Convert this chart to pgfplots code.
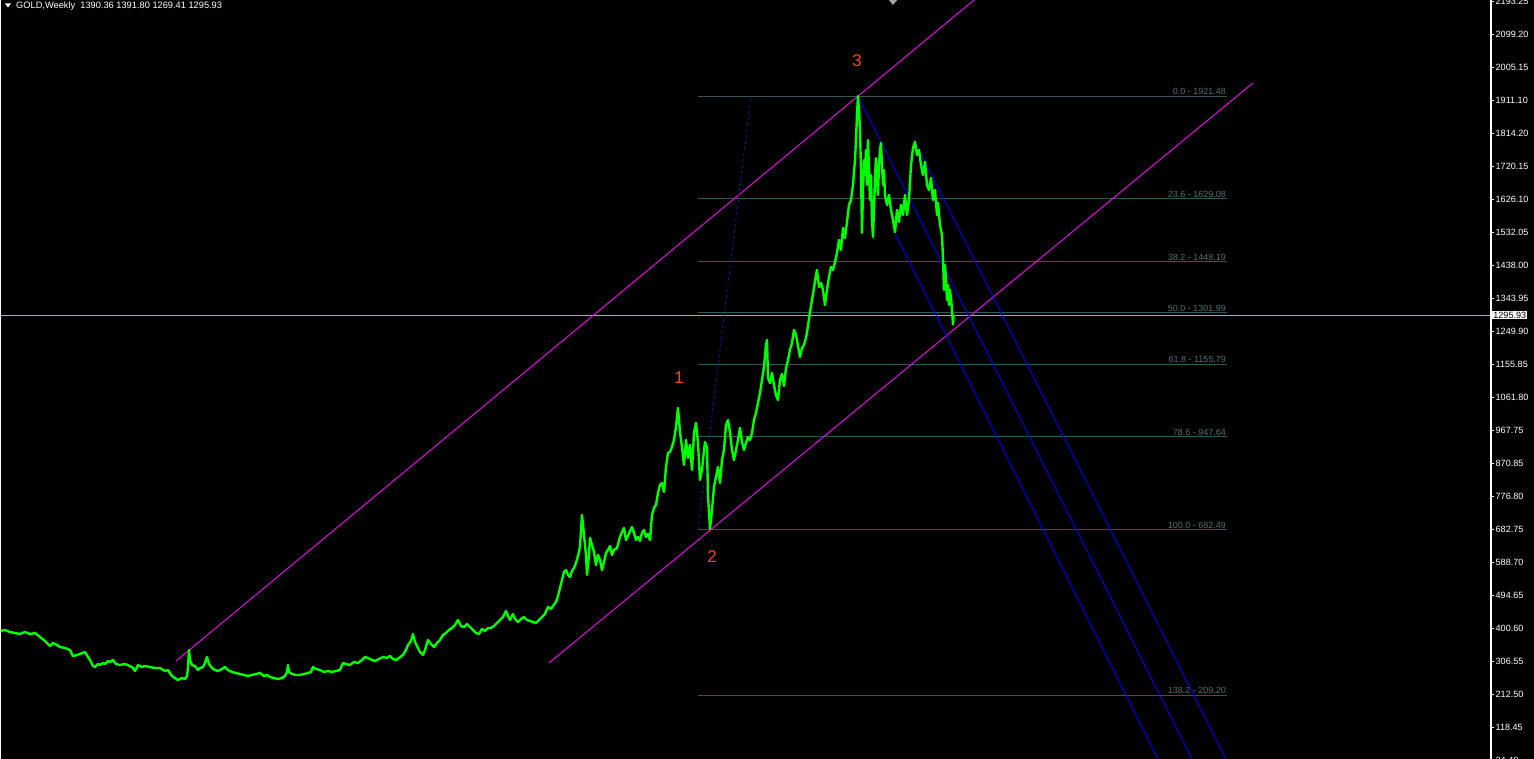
\documentclass[border=0pt]{standalone}
\usepackage{pgfplots}
\pgfplotsset{compat=1.18}
\usepackage{fontspec}
\setmainfont{Liberation Sans}
\definecolor{gld}{RGB}{0,255,0}
\definecolor{mag}{RGB}{255,0,255}
\definecolor{fibc}{RGB}{55,85,85}
\definecolor{fibt}{RGB}{80,110,110}
\definecolor{wave}{RGB}{255,69,0}
\definecolor{navyd}{RGB}{20,20,150}
\definecolor{cpl}{RGB}{160,168,190}
\definecolor{bluel}{RGB}{0,0,255}
\begin{document}
\begin{tikzpicture}
\clip (0,0) rectangle (1534bp,759bp);
\fill[black] (0,0) rectangle (1534bp,759bp);
\begin{axis}[
  at={(0,-1bp)}, anchor=south west, scale only axis,
  width=1490bp, height=760bp,
  xmin=0, xmax=1490, ymin=23.8, ymax=2196.4,
  axis line style={draw=none},
  xtick=\empty,
  ytick={2193.54,2099.21,2004.87,1910.54,1816.20,1721.87,1627.54,1533.20,1438.87,1344.53,1250.20,1155.87,1061.53,967.20,872.86,778.53,684.20,589.86,495.53,401.19,306.86,212.53,118.19,23.86},
  yticklabels={2193.25,2099.20,2005.15,1911.10,1814.20,1720.15,1626.10,1532.05,1438.00,1343.95,1249.90,1155.85,1061.80,967.75,870.85,776.80,682.75,588.70,494.65,400.60,306.55,212.50,118.45,24.40},
  ytick pos=right, tick align=outside,
  major tick length=4bp,
  y tick style={white, line width=0.8bp},
  yticklabel style={white, font=\fontsize{9.1}{10}\selectfont, inner sep=1.5bp},
  clip=true,
]
% fibonacci levels
\addplot[fibc, line width=0.8bp] coordinates {(698,1921.48) (1227,1921.48)};
\addplot[fibc, line width=0.8bp] coordinates {(698,1629.08) (1227,1629.08)};
\addplot[fibc, line width=0.8bp] coordinates {(698,1448.19) (1227,1448.19)};
\addplot[fibc, line width=0.8bp] coordinates {(698,1301.99) (1227,1301.99)};
\addplot[fibc, line width=0.8bp] coordinates {(698,1155.79) (1227,1155.79)};
\addplot[fibc, line width=0.8bp] coordinates {(698,947.64) (1227,947.64)};
\addplot[fibc, line width=0.8bp] coordinates {(698,682.49) (1227,682.49)};
\addplot[fibc, line width=0.8bp] coordinates {(698,209.20) (1227,209.20)};
\begin{scope}[every node/.style={fibt, anchor=south east, inner sep=1bp, font=\fontsize{9}{10}\selectfont}]
\node at (axis cs:1227,1921.48) {0.0 - 1921.48};
\node at (axis cs:1227,1629.08) {23.6 - 1629.08};
\node at (axis cs:1227,1448.19) {38.2 - 1448.19};
\node at (axis cs:1227,1301.99) {50.0 - 1301.99};
\node at (axis cs:1227,1155.79) {61.8 - 1155.79};
\node at (axis cs:1227,947.64) {78.6 - 947.64};
\node at (axis cs:1227,682.49) {100.0 - 682.49};
\node at (axis cs:1227,209.20) {138.2 - 209.20};
\end{scope}
% current price line
\addplot[cpl, line width=0.8bp] coordinates {(0,1295.93) (1490,1295.93)};
% channel lines
\addplot[mag, line width=0.9bp] coordinates {(176,306.9) (990,2234.0)};
\addplot[mag, line width=0.9bp] coordinates {(549,301.1) (1253,1959.1)};
% fib trend (dashed)
\addplot[navyd, dashed, line width=0.9bp] coordinates {(698,682.49) (751,1921.48)};
% blue fan lines
\addplot[bluel, line width=0.9bp] coordinates {(915,1790.5) (1226,26.7)};
\addplot[bluel, line width=0.9bp] coordinates {(858,1921.5) (1192,26.7)};
\addplot[bluel, line width=0.9bp] coordinates {(896,1524.6) (1158,26.7)};
% price series
\addplot[gld, line width=2.4bp, line join=round] coordinates {
(0,392.6) (5,395.4) (10,389.7) (15,386.9) (20,384.0) (25,389.7) (30,384.0) (35,386.9)
(40,375.4) (45,364.0) (50,349.7) (53,358.3) (57,352.6) (60,346.9) (65,344.0) (70,338.3)
(73,321.1) (77,324.0) (80,326.8) (85,332.5) (88,318.3) (90,309.7) (93,292.5) (95,289.7)
(98,298.2) (100,295.4) (103,301.1) (105,298.2) (108,306.8) (110,303.9) (113,309.7) (116,298.2)
(120,295.4) (125,298.2) (130,292.5) (133,286.8) (135,278.2) (138,295.4) (142,289.7) (145,292.5)
(150,289.7) (155,286.8) (160,286.8) (165,278.2) (168,281.1) (172,263.9) (175,258.2) (178,252.5)
(182,258.2) (185,255.3) (187,263.9) (188,286.8) (189,338.3) (190,309.7) (192,295.4) (195,292.5)
(198,281.1) (200,286.8) (203,289.7) (205,301.1) (207,318.3) (209,298.2) (212,286.8) (215,281.1)
(218,278.2) (222,284.0) (225,289.7) (228,281.1) (232,275.4) (236,272.5) (240,269.7) (244,266.8)
(248,263.9) (252,266.8) (256,269.7) (260,272.5) (264,263.9) (267,266.8) (270,261.1) (274,258.2)
(278,255.3) (282,258.2) (285,263.9) (287,275.4) (288,295.4) (289,275.4) (292,269.7) (296,266.8)
(300,266.8) (304,269.7) (308,272.5) (311,275.4) (313,289.7) (316,284.0) (320,281.1) (324,275.4)
(328,278.2) (332,275.4) (336,278.2) (340,281.1) (343,301.1) (346,298.2) (350,295.4) (354,303.9)
(358,301.1) (362,309.7) (365,318.3) (368,315.5) (372,309.7) (375,306.8) (379,312.5) (383,318.3)
(387,315.5) (390,321.1) (393,312.5) (396,309.7) (399,315.5) (403,324.0) (406,338.3) (408,352.6)
(411,364.0) (413,384.0) (415,361.1) (417,349.7) (420,332.5) (423,324.0) (425,338.3) (428,366.9)
(431,355.4) (434,346.9) (437,358.3) (440,366.9) (443,381.1) (446,386.9) (449,395.4) (452,401.2)
(455,409.7) (458,424.0) (461,406.9) (464,404.0) (467,412.6) (470,404.0) (473,395.4) (476,386.9)
(479,384.0) (482,398.3) (485,392.6) (488,401.2) (491,401.2) (494,406.9) (497,415.5) (500,424.0)
(503,432.6) (506,449.8) (508,435.5) (510,424.0) (513,441.2) (515,426.9) (518,418.3) (521,426.9)
(524,432.6) (527,424.0) (530,421.2) (533,418.3) (536,415.5) (539,424.0) (542,432.6) (545,441.2)
(548,461.2) (551,455.5) (553,464.0) (556,475.5) (558,492.6) (560,515.5) (562,538.4) (564,561.3)
(566,567.0) (568,552.7) (570,547.0) (572,564.1) (574,572.7) (576,587.0) (578,607.0) (580,632.7)
(582,724.2) (583,695.7) (584,667.0) (586,609.9) (587,552.7) (589,609.9) (590,658.5) (592,638.5)
(594,618.4) (596,581.3) (598,609.9) (600,595.6) (602,567.0) (604,589.9) (606,615.6) (608,624.2)
(610,635.6) (612,609.9) (614,624.2) (617,629.9) (620,661.3) (622,675.6) (624,687.1) (626,652.8)
(628,664.2) (630,678.5) (632,690.0) (634,672.8) (636,652.8) (638,661.3) (640,649.9) (642,672.8)
(644,681.3) (646,661.3) (648,669.9) (650,652.8) (652,724.2) (654,744.2) (656,752.8) (658,787.1)
(660,810.0) (662,815.7) (664,790.0) (666,861.4) (668,901.5) (670,904.3) (672,918.6) (674,938.6)
(676,975.8) (678,1030.1) (680,961.5) (682,918.6) (684,867.2) (686,938.6) (688,887.2) (690,924.3)
(692,852.9) (694,958.7) (696,987.2) (698,930.0) (700,824.3) (702,852.9) (703,881.5) (705,932.9)
(707,915.8) (708,781.4) (710,684.2) (712,738.5) (714,804.3) (716,832.8) (718,861.4) (720,815.7)
(722,881.5) (724,910.0) (726,981.5) (728,995.8) (730,961.5) (732,910.0) (734,881.5) (736,910.0)
(738,938.6) (740,972.9) (742,932.9) (744,910.0) (746,930.0) (748,947.1) (750,938.6) (752,958.7)
(754,995.8) (756,1015.8) (758,1044.4) (760,1073.0) (762,1110.1) (764,1147.3) (766,1210.2) (767,1224.5)
(768,1115.8) (770,1101.5) (772,1130.1) (774,1095.8) (776,1067.3) (778,1053.0) (780,1110.1) (782,1127.3)
(784,1093.0) (786,1144.5) (788,1167.3) (790,1195.9) (792,1215.9) (794,1253.1) (796,1238.8) (798,1207.3)
(800,1175.9) (802,1201.6) (804,1210.2) (806,1230.2) (808,1264.5) (810,1304.6) (812,1338.9) (814,1373.2)
(816,1410.3) (817,1424.6) (819,1376.0) (821,1387.4) (823,1367.4) (825,1324.5) (827,1367.4) (829,1404.6)
(831,1433.2) (833,1424.6) (835,1447.5) (837,1473.2) (839,1510.4) (841,1481.8) (843,1544.6) (845,1516.1)
(847,1561.8) (849,1610.4) (851,1624.7) (853,1667.6) (855,1739.0) (856,1796.2) (857,1867.7) (858,1921.5)
(859,1881.9) (860,1824.8) (861,1710.4) (862,1530.3) (863,1653.3) (864,1739.0) (865,1696.1) (866,1767.6)
(867,1667.6) (868,1796.2) (869,1710.4) (870,1624.7) (871,1696.1) (872,1567.5) (873,1518.9) (874,1596.1)
(875,1687.6) (876,1744.7) (877,1681.8) (878,1639.0) (879,1724.7) (880,1767.6) (881,1787.6) (882,1724.7)
(883,1667.6) (884,1710.4) (885,1639.0) (887,1610.4) (889,1639.0) (891,1596.1) (893,1567.5) (895,1533.2)
(897,1596.1) (899,1561.8) (901,1610.4) (903,1581.8) (905,1639.0) (907,1581.8) (909,1624.7) (911,1724.7)
(913,1773.3) (915,1790.5) (917,1753.3) (919,1767.6) (921,1724.7) (923,1696.1) (925,1733.3) (927,1667.6)
(929,1653.3) (931,1687.6) (933,1624.7) (935,1653.3) (937,1581.8) (938,1616.1) (940,1553.2) (942,1524.6)
(943,1458.9) (944,1367.4) (945,1438.9) (946,1396.0) (947,1338.9) (948,1381.7) (949,1324.5) (950,1367.4)
(951,1344.5) (952,1310.2) (953,1269.4) (953.5,1295.9)
};
% wave labels
\begin{scope}[every node/.style={wave, font=\fontsize{17}{19}\selectfont}]
\node at (axis cs:679,1115.8) {1};
\node at (axis cs:712,604.1) {2};
\node at (axis cs:857,2022.0) {3};
\end{scope}
\coordinate (pbox) at (axis cs:1490,1295.93);
\end{axis}
% frame lines
\draw[white, line width=1.2bp] (0.6bp,0) -- (0.6bp,759bp);
\draw[white, line width=2bp] (1491bp,0) -- (1491bp,759bp);
% current price box
\node[fill=white, text=black, anchor=west, inner sep=1.2bp, font=\fontsize{9.1}{10}\selectfont] at ([xshift=2bp]pbox) {1295.93};
% title
\fill[white] (5bp,755.5bp) -- (11bp,755.5bp) -- (8bp,751.5bp) -- cycle;
\node[white, anchor=west, inner sep=0pt, font=\fontsize{9.3}{10}\selectfont] at (16bp,753bp) {GOLD,Weekly\ \ 1390.36 1391.80 1269.41 1295.93};
% small marker at top
\fill[gray!70] (888bp,760bp) -- (898bp,760bp) -- (893bp,754bp) -- cycle;
\end{tikzpicture}
\end{document}
